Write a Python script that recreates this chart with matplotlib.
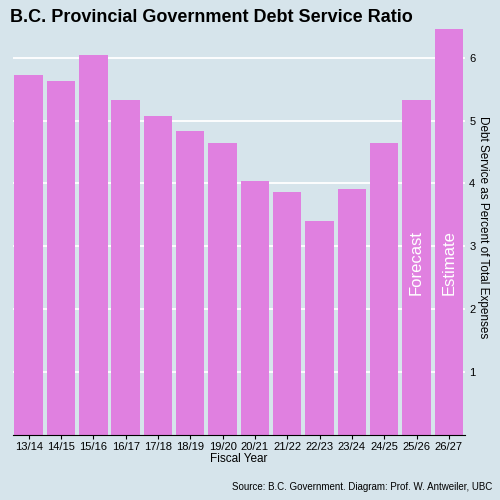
import matplotlib
matplotlib.use("Agg")
import matplotlib.pyplot as plt

plt.rcParams["font.family"] = ["Liberation Sans", "DejaVu Sans"]

years = ["13/14", "14/15", "15/16", "16/17", "17/18", "18/19", "19/20",
         "20/21", "21/22", "22/23", "23/24", "24/25", "25/26", "26/27"]
ratio = [5.72, 5.63, 6.04, 5.33, 5.08, 4.84, 4.64,
         4.04, 3.87, 3.40, 3.92, 4.65, 5.33, 6.45]
bar_notes = {"25/26": "Forecast", "26/27": "Estimate"}

BG = "#d6e4eb"
BAR = "#e080e0"

fig = plt.figure(figsize=(5, 5), dpi=100, facecolor=BG)
ax = fig.add_axes([0.025, 0.13, 0.905, 0.83], facecolor=BG)

x = range(len(years))
ax.bar(x, ratio, width=0.88, color=BAR, zorder=2)
for i, (yr, v) in enumerate(zip(years, ratio)):
    if yr in bar_notes:
        ax.text(i, 2.75, bar_notes[yr], rotation=90, color="white",
                fontsize=12, ha="center", va="center", zorder=3)

ax.set_xlim(-0.5, len(years) - 0.5)
ax.set_ylim(0, 6.6)
ax.set_yticks([1, 2, 3, 4, 5, 6])
ax.yaxis.tick_right()
ax.yaxis.set_label_position("right")
ax.grid(axis="y", color="white", linewidth=1.3, zorder=0)
ax.set_xticks(list(x))
ax.set_xticklabels(years, fontsize=8)
ax.tick_params(axis="y", labelsize=8, length=0, pad=3)
ax.tick_params(axis="x", length=3, pad=2)
for s in ax.spines.values():
    s.set_visible(False)
ax.spines["bottom"].set_visible(True)
ax.spines["bottom"].set_color("black")

ax.set_xlabel("Fiscal Year", fontsize=8.5, labelpad=1)
ax.set_ylabel("Debt Service as Percent of Total Expenses", fontsize=8.5,
              rotation=270, labelpad=10)

fig.text(0.02, 0.965, "B.C. Provincial Government Debt Service Ratio",
         fontsize=13, fontweight="bold", ha="left", va="center")
fig.text(0.985, 0.025, "Source: B.C. Government. Diagram: Prof. W. Antweiler, UBC",
         fontsize=7, ha="right", va="center")

fig.savefig("out.png", dpi=100, facecolor=BG)
